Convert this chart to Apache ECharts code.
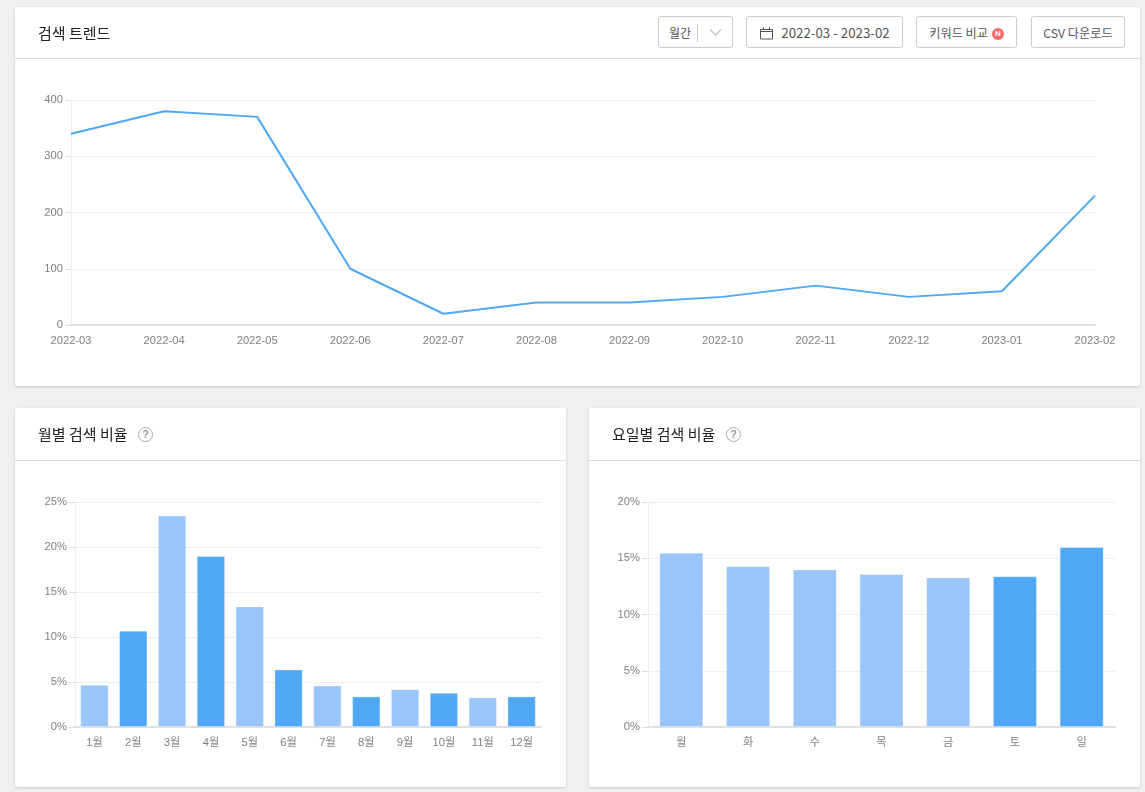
<!DOCTYPE html>
<html>
<head>
<meta charset="utf-8">
<script src="https://cdn.jsdelivr.net/npm/echarts@6/dist/echarts.min.js"></script>
<style>
html, body { margin: 0; padding: 0; }
body { width: 1145px; height: 792px; background: #f0f0f2; overflow: hidden; position: relative; font-family: "Noto Sans CJK KR", sans-serif; }
.card { position: absolute; background: #fff; border-radius: 2px; box-shadow: 0 1px 3px rgba(0,0,0,.18); }
.head { position: absolute; left: 0; right: 0; top: 0; border-bottom: 1px solid #d9d9d9; }
.title { position: absolute; left: 23px; font-size: 15px; color: #222; line-height: 20px; white-space: nowrap; }
.chart { position: absolute; left: 0; top: 0; right: 0; bottom: 0; }
.btn { position: absolute; top: 9px; height: 32px; box-sizing: border-box; border: 1px solid #ccc; border-radius: 3px; background: #fff; color: #555; font-size: 12px; line-height: 32px; text-align: center; white-space: nowrap; }
.help { position: absolute; width: 13px; height: 13px; border: 1.5px solid #aaa; border-radius: 50%; color: #999; font: bold 11px/13px "Liberation Sans", sans-serif; text-align: center; }
.badge { display: inline-block; width: 12px; height: 12px; border-radius: 50%; background: #f96b6b; color: #fff; font: bold 8px/12px "Liberation Sans", sans-serif; vertical-align: 2px; margin-left: 1px; }
</style>
</head>
<body>
<div class="card" style="left:15px;top:7px;width:1125px;height:379px">
  <div class="chart" id="trendChart"></div>
  <div class="head" style="height:51px"></div>
  <div class="title" style="top:16px">검색 트렌드</div>
  <div class="btn" style="left:643px;width:75px;text-align:left;padding-left:10px">월간
    <span style="position:absolute;left:38px;top:7px;height:18px;border-left:1px solid #ccc"></span>
    <svg style="position:absolute;left:50px;top:11px" width="13" height="9"><path d="M1 1.5 L6.5 7 L12 1.5" fill="none" stroke="#c8c8c8" stroke-width="1.6"/></svg>
  </div>
  <div class="btn" style="left:731px;width:157px;font-size:13.3px;padding-left:22px">
    <svg style="position:absolute;left:13px;top:9px" width="13" height="14"><path d="M.5 3.5 H12.5 V13 H.5 Z M.5 5.5 H12.5 M3.5 1 V3.5 M9.5 1 V3.5" fill="none" stroke="#555"/></svg>
    2022-03 - 2023-02</div>
  <div class="btn" style="left:901px;width:101px;font-size:12.2px">키워드 비교 <span class="badge">N</span></div>
  <div class="btn" style="left:1016px;width:94px;font-size:12.2px">CSV 다운로드</div>
</div>
<div class="card" style="left:15px;top:408px;width:551px;height:379px">
  <div class="chart" id="monthChart"></div>
  <div class="head" style="height:52px"></div>
  <div class="title" style="top:16px">월별 검색 비율</div>
  <div class="help" style="left:123px;top:19px">?</div>
</div>
<div class="card" style="left:589px;top:408px;width:551px;height:379px">
  <div class="chart" id="dayChart"></div>
  <div class="head" style="height:52px"></div>
  <div class="title" style="top:16px">요일별 검색 비율</div>
  <div class="help" style="left:137px;top:19px">?</div>
</div>
<script>
var trendMonths = ['2022-03','2022-04','2022-05','2022-06','2022-07','2022-08','2022-09','2022-10','2022-11','2022-12','2023-01','2023-02'];
var trendValues = [340, 380, 370, 100, 20, 40, 40, 50, 70, 50, 60, 230];

var monthLabels = ['1월','2월','3월','4월','5월','6월','7월','8월','9월','10월','11월','12월'];
var monthValues = [4.7, 10.7, 23.5, 19.0, 13.4, 6.4, 4.6, 3.4, 4.2, 3.8, 3.3, 3.4];
var monthDark = [1, 3, 5, 7, 9, 11];

var dayLabels = ['월','화','수','목','금','토','일'];
var dayValues = [15.5, 14.3, 14.0, 13.6, 13.3, 13.4, 16.0];
var dayDark = [5, 6];

var labelFont = '"Liberation Sans", "Noto Sans CJK KR", sans-serif';
var labelColor = '#808080';

function baseOption(labels, grid, yMax, yInterval, yFormat) {
    return {
        animation: false,
        grid: grid,
        xAxis: {
            type: 'category',
            data: labels,
            axisLine: { lineStyle: { color: '#e0e0e0', width: 2 } },
            axisTick: { show: false },
            axisLabel: { color: labelColor, fontSize: 11.2, fontFamily: labelFont, margin: 10, interval: 0 }
        },
        yAxis: {
            type: 'value',
            min: 0,
            max: yMax,
            interval: yInterval,
            axisLine: { show: true, lineStyle: { color: '#eee' } },
            axisTick: { show: true, length: 6, lineStyle: { color: '#ddd' } },
            axisLabel: { color: labelColor, fontSize: 11.2, fontFamily: labelFont, margin: 8, lineHeight: 14, padding: [2, 0, 0, 0], formatter: yFormat },
            splitLine: { lineStyle: { color: '#eee' } }
        }
    };
}

function barChart(id, labels, values, dark, grid, yMax, yInterval, width) {
    var option = baseOption(labels, grid, yMax, yInterval, '{value}%');
    option.series = [{
        type: 'bar',
        barWidth: width,
        data: values,
        itemStyle: {
            borderColor: 'rgba(255,255,255,0.3)',
            borderWidth: 1,
            color: function (p) {
                return dark.indexOf(p.dataIndex) >= 0 ? '#50a8f5' : '#99c5f8';
            }
        }
    }];
    echarts.init(document.getElementById(id)).setOption(option);
}

// 검색 트렌드
var trendOption = baseOption(trendMonths, { left: 56, right: 45, top: 93, height: 225 }, 400, 100, '{value}');
trendOption.xAxis.boundaryGap = false;
trendOption.series = [{
    type: 'line',
    data: trendValues,
    showSymbol: false,
    lineStyle: { color: '#50a8f5', width: 2 }
}];
echarts.init(document.getElementById('trendChart')).setOption(trendOption);

barChart('monthChart', monthLabels, monthValues, monthDark, { left: 60, right: 25, top: 94, height: 225 }, 25, 5, '73%');
barChart('dayChart', dayLabels, dayValues, dayDark, { left: 59, right: 25, top: 94, height: 225 }, 20, 5, '66%');
</script>
</body>
</html>
